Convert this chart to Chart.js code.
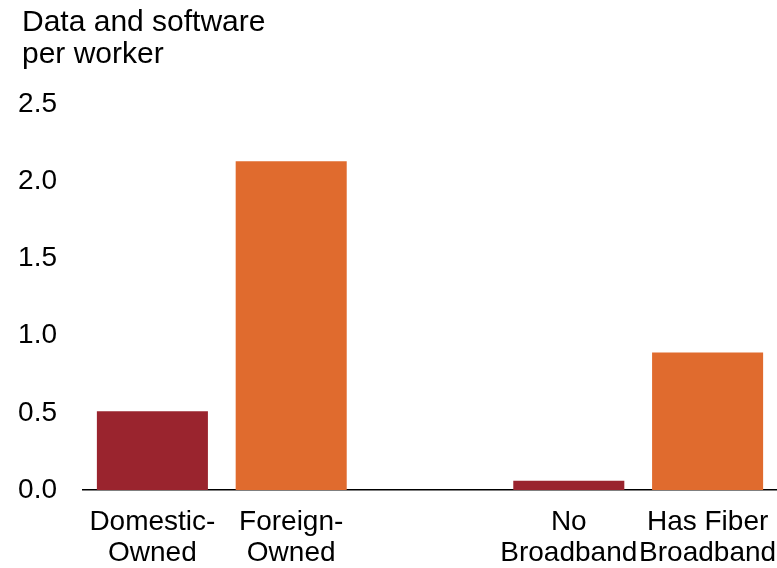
<!DOCTYPE html>
<html>
<head>
<meta charset="utf-8">
<script src="https://cdn.jsdelivr.net/npm/chart.js@4/dist/chart.umd.min.js"></script>
<style>
  html, body { margin: 0; padding: 0; background: #ffffff; }
  #wrap { width: 777px; height: 568px; position: relative; }
</style>
</head>
<body>
<div id="wrap"><canvas id="c" width="777" height="568"></canvas></div>
<script>
const categories = [
  ['Domestic-', 'Owned'],
  ['Foreign-', 'Owned'],
  '',
  ['No', 'Broadband'],
  ['Has Fiber', 'Broadband']
];
const values = [0.51, 2.13, null, 0.06, 0.89];
const barColors = ['#9A242E', '#E06B2E', '#ffffff', '#9A242E', '#E06B2E'];
const titleLines = ['Data and software', 'per worker'];
const yMin = 0, yMax = 2.5, yStep = 0.5;

const FONT = "'Liberation Sans', Arial, sans-serif";

const topTitle = {
  id: 'topTitle',
  afterDraw(chart) {
    const ctx = chart.ctx;
    ctx.save();
    ctx.fillStyle = '#000000';
    ctx.font = '30px ' + FONT;
    ctx.textAlign = 'left';
    ctx.textBaseline = 'middle';
    titleLines.forEach((t, i) => ctx.fillText(t, 22, 23 + i * 31.6));
    ctx.restore();
  }
};

new Chart(document.getElementById('c'), {
  type: 'bar',
  data: {
    labels: categories,
    datasets: [{
      data: values,
      backgroundColor: barColors,
      borderWidth: 0,
      barPercentage: 0.8,
      categoryPercentage: 1.0
    }]
  },
  options: {
    responsive: false,
    animation: false,
    layout: { padding: { left: 0, right: 0, top: 104, bottom: 0 } },
    plugins: {
      legend: { display: false },
      tooltip: { enabled: false },
      title: { display: false }
    },
    scales: {
      x: {
        grid: { display: false, drawTicks: false },
        border: { display: true, color: '#000000', width: 1.5 },
        ticks: {
          color: '#000000',
          padding: 16,
          maxRotation: 0,
          autoSkip: false,
          font: { family: FONT, size: 28, lineHeight: 1.13 }
        },
        afterFit: (s) => { s.height = 78; s.paddingLeft = 0; s.paddingRight = 0; }
      },
      y: {
        min: yMin,
        max: yMax,
        grid: { display: false, drawTicks: false },
        border: { display: false },
        ticks: {
          stepSize: yStep,
          color: '#000000',
          padding: 26,
          font: { family: FONT, size: 28 },
          callback: (v) => Number(v).toFixed(1)
        },
        afterFit: (s) => { s.width = 83; }
      }
    }
  },
  plugins: [topTitle]
});
</script>
</body>
</html>
